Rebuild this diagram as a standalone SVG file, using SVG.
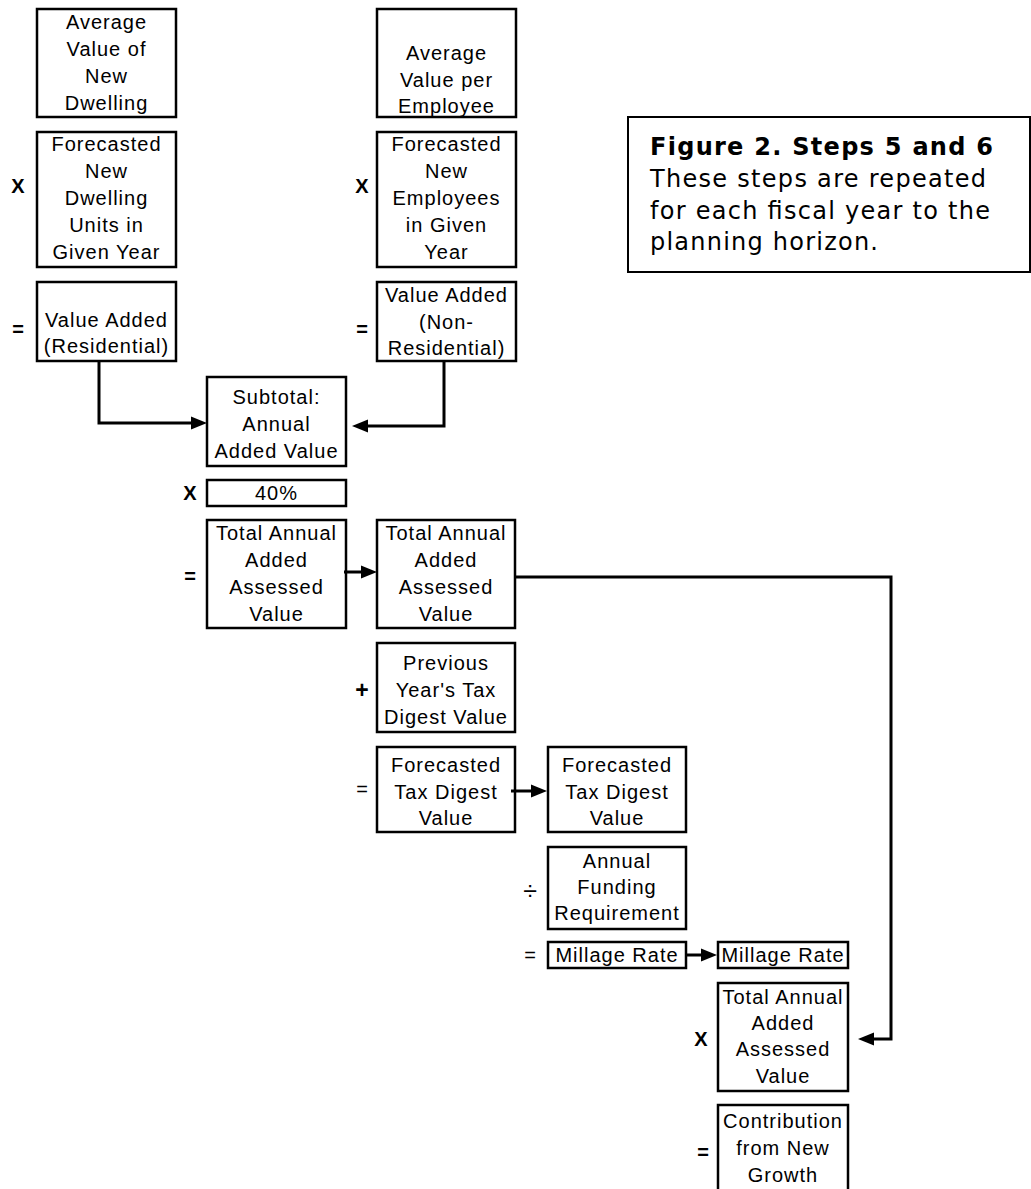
<svg xmlns="http://www.w3.org/2000/svg" width="1031" height="1189" viewBox="0 0 1031 1189">
<style>
.box{fill:#fff;stroke:#000;stroke-width:2.5}
.t{font-family:"Liberation Sans",Arial,sans-serif;font-size:20px;letter-spacing:1px;text-anchor:middle;fill:#000}
.op{font-family:"Liberation Sans",Arial,sans-serif;font-size:20px;font-weight:bold;text-anchor:middle;fill:#000}
.opn{font-family:"Liberation Sans",Arial,sans-serif;font-size:20px;text-anchor:middle;fill:#000}
.cap{font-family:"DejaVu Sans",Verdana,sans-serif;font-size:24px;fill:#000}
.conn{fill:none;stroke:#000;stroke-width:3;marker-end:url(#ah)}
</style>
<defs>
<marker id="ah" markerUnits="userSpaceOnUse" markerWidth="17" markerHeight="14" refX="6" refY="7" orient="auto"><path d="M0,0.5 L16,7 L0,13.5 z" fill="#000"/></marker>
</defs>
<rect width="1031" height="1189" fill="#fff"/>

<g id="caption">
<rect class="box" x="628" y="117" width="402" height="155" style="stroke-width:2"/>
<text class="cap" x="650" y="155" font-weight="bold" textLength="343" lengthAdjust="spacing">Figure 2. Steps 5 and 6</text>
<text class="cap" x="650" y="187" textLength="336" lengthAdjust="spacing">These steps are repeated</text>
<text class="cap" x="650" y="219" textLength="340" lengthAdjust="spacing">for each fiscal year to the</text>
<text class="cap" x="650" y="250" textLength="228" lengthAdjust="spacing">planning horizon.</text>
</g>

<g id="avg-dwelling">
<rect class="box" x="37" y="9" width="139" height="108"/>
<text class="t" x="106.5" y="29">Average</text>
<text class="t" x="106.5" y="56">Value of</text>
<text class="t" x="106.5" y="83">New</text>
<text class="t" x="106.5" y="110">Dwelling</text>
</g>
<g id="forecast-dwelling">
<text class="op" x="18" y="193">X</text>
<rect class="box" x="37" y="132" width="139" height="135"/>
<text class="t" x="106.5" y="151">Forecasted</text>
<text class="t" x="106.5" y="178">New</text>
<text class="t" x="106.5" y="205">Dwelling</text>
<text class="t" x="106.5" y="232">Units in</text>
<text class="t" x="106.5" y="259">Given Year</text>
</g>
<g id="value-res">
<text class="op" x="18" y="336">=</text>
<rect class="box" x="37" y="282" width="139" height="79"/>
<text class="t" x="106.5" y="327">Value Added</text>
<text class="t" x="106.5" y="353">(Residential)</text>
</g>

<g id="avg-employee">
<rect class="box" x="377" y="9" width="139" height="108"/>
<text class="t" x="446.5" y="60">Average</text>
<text class="t" x="446.5" y="87">Value per</text>
<text class="t" x="446.5" y="113">Employee</text>
</g>
<g id="forecast-employees">
<text class="op" x="362" y="193">X</text>
<rect class="box" x="377" y="132" width="139" height="135"/>
<text class="t" x="446.5" y="151">Forecasted</text>
<text class="t" x="446.5" y="178">New</text>
<text class="t" x="446.5" y="205">Employees</text>
<text class="t" x="446.5" y="232">in Given</text>
<text class="t" x="446.5" y="259">Year</text>
</g>
<g id="value-nonres">
<text class="op" x="362" y="336">=</text>
<rect class="box" x="377" y="282" width="139" height="79"/>
<text class="t" x="446.5" y="302">Value Added</text>
<text class="t" x="446.5" y="329">(Non-</text>
<text class="t" x="446.5" y="355">Residential)</text>
</g>

<g id="subtotal">
<rect class="box" x="207" y="377" width="139" height="89"/>
<text class="t" x="276.5" y="404">Subtotal:</text>
<text class="t" x="276.5" y="431">Annual</text>
<text class="t" x="276.5" y="458">Added Value</text>
</g>
<g id="pct40">
<text class="op" x="190" y="500">X</text>
<rect class="box" x="207" y="480" width="139" height="26"/>
<text class="t" x="276.5" y="500">40%</text>
</g>
<g id="total-annual-1">
<text class="op" x="190" y="583">=</text>
<rect class="box" x="207" y="520" width="139" height="108"/>
<text class="t" x="276.5" y="540">Total Annual</text>
<text class="t" x="276.5" y="567">Added</text>
<text class="t" x="276.5" y="594">Assessed</text>
<text class="t" x="276.5" y="621">Value</text>
</g>
<g id="total-annual-2">
<rect class="box" x="377" y="520" width="138" height="108"/>
<text class="t" x="446" y="540">Total Annual</text>
<text class="t" x="446" y="567">Added</text>
<text class="t" x="446" y="594">Assessed</text>
<text class="t" x="446" y="621">Value</text>
</g>
<g id="previous-digest">
<text class="op" x="362" y="698" style="font-size:23px">+</text>
<rect class="box" x="377" y="643" width="138" height="89"/>
<text class="t" x="446" y="670">Previous</text>
<text class="t" x="446" y="697">Year's Tax</text>
<text class="t" x="446" y="724">Digest Value</text>
</g>
<g id="forecast-digest-1">
<text class="opn" x="362" y="796">=</text>
<rect class="box" x="377" y="747" width="138" height="85"/>
<text class="t" x="446" y="772">Forecasted</text>
<text class="t" x="446" y="799">Tax Digest</text>
<text class="t" x="446" y="825">Value</text>
</g>
<g id="forecast-digest-2">
<rect class="box" x="548" y="747" width="138" height="85"/>
<text class="t" x="617" y="772">Forecasted</text>
<text class="t" x="617" y="799">Tax Digest</text>
<text class="t" x="617" y="825">Value</text>
</g>
<g id="funding">
<text class="opn" x="530" y="900" style="font-size:25px">÷</text>
<rect class="box" x="548" y="847" width="138" height="82"/>
<text class="t" x="617" y="868">Annual</text>
<text class="t" x="617" y="894">Funding</text>
<text class="t" x="617" y="920">Requirement</text>
</g>
<g id="millage-1">
<text class="opn" x="530" y="962">=</text>
<rect class="box" x="548" y="942" width="138" height="26"/>
<text class="t" x="617" y="962">Millage Rate</text>
</g>
<g id="millage-2">
<rect class="box" x="718" y="942" width="130" height="26"/>
<text class="t" x="783" y="962">Millage Rate</text>
</g>
<g id="total-annual-3">
<text class="op" x="701" y="1046">X</text>
<rect class="box" x="718" y="983" width="130" height="108"/>
<text class="t" x="783" y="1004">Total Annual</text>
<text class="t" x="783" y="1030">Added</text>
<text class="t" x="783" y="1056">Assessed</text>
<text class="t" x="783" y="1083">Value</text>
</g>
<g id="contribution">
<text class="op" x="703" y="1159">=</text>
<rect class="box" x="718" y="1105" width="130" height="90"/>
<text class="t" x="783" y="1128">Contribution</text>
<text class="t" x="783" y="1155">from New</text>
<text class="t" x="783" y="1182">Growth</text>
</g>

<g id="connectors">
<path class="conn" d="M99 361 V423 H197"/>
<path class="conn" d="M444 361 V426 H362"/>
<path class="conn" d="M344 572 H367"/>
<path class="conn" d="M515 577 H891 V1039 H868"/>
<path class="conn" d="M511 791 H537"/>
<path class="conn" d="M686 955 H707"/>
</g>
</svg>
